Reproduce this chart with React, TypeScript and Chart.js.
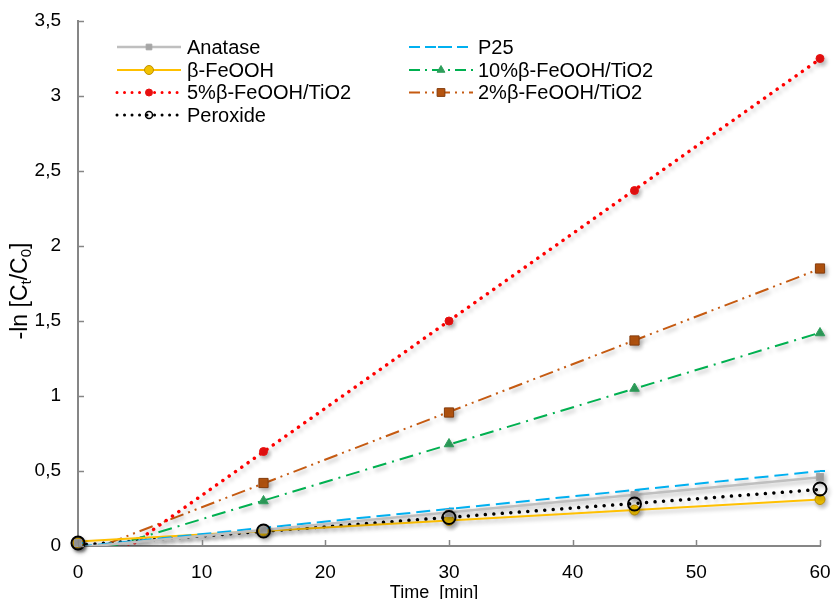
import React, { useEffect, useRef } from 'react';
import { Chart, registerables } from 'chart.js';

Chart.register(...registerables);

// ---- data ----
const times = [0, 15, 30, 45, 60];
const anatase = [0.02, 0.11, 0.22, 0.34, 0.46];
const p25 = [0.02, 0.12, 0.25, 0.37, 0.5];
const feooh = [0.02, 0.1, 0.17, 0.24, 0.31];
const tio2_10 = [0.02, 0.3, 0.68, 1.05, 1.42];
const tio2_5 = [0.02, 0.63, 1.5, 2.37, 3.25];
const tio2_2 = [0.02, 0.42, 0.89, 1.37, 1.85];
const peroxide = [0.02, 0.1, 0.19, 0.28, 0.38];
const seriesNames = ['Anatase', 'P25', 'β-FeOOH', '10%β-FeOOH/TiO2', '5%β-FeOOH/TiO2', '2%β-FeOOH/TiO2', 'Peroxide'];
const seriesValues = [anatase, p25, feooh, tio2_10, tio2_5, tio2_2, peroxide];
const xTickStep = 10;
const yTickStep = 0.5;
const xMax = 60;
const yMax = 3.5;
const xTitle = 'Time  [min]';

const FONT = '"Liberation Sans", Arial, sans-serif';

type Style = {
  color: string; dash: number[]; width: number; cap: CanvasLineCap;
  point: string; radius: number; fill: string; stroke: string; bw: number;
  legendRadius: number; legendDash: number[];
};

const styles: Style[] = [
  { color: '#BFBFBF', dash: [], width: 2.5, cap: 'butt', point: 'rect', radius: 5, fill: '#A6A6A6', stroke: '#A6A6A6', bw: 1, legendRadius: 4, legendDash: [] },
  { color: '#00B0F0', dash: [14, 6], width: 2, cap: 'butt', point: 'dash', radius: 5, fill: '#00B0F0', stroke: '#00B0F0', bw: 2, legendRadius: 3, legendDash: [11, 5] },
  { color: '#FFC000', dash: [], width: 2, cap: 'butt', point: 'circle', radius: 5, fill: '#F2C200', stroke: '#BF9000', bw: 1, legendRadius: 4.5, legendDash: [] },
  { color: '#00B050', dash: [14, 6, 2, 6], width: 2, cap: 'butt', point: 'triangle', radius: 5.5, fill: '#2E9E5B', stroke: '#2E9E5B', bw: 1, legendRadius: 4.5, legendDash: [11, 5, 2, 5] },
  { color: '#FF0000', dash: [0.01, 7.7], width: 3.5, cap: 'round', point: 'circle', radius: 4, fill: '#E81010', stroke: '#E81010', bw: 1, legendRadius: 3.5, legendDash: [0.01, 7.5] },
  { color: '#C55A11', dash: [14, 5, 2, 5, 2, 5], width: 2, cap: 'butt', point: 'rect', radius: 6.5, fill: '#B5540F', stroke: '#843C0C', bw: 1, legendRadius: 5.5, legendDash: [11, 5, 2, 5, 2, 5] },
  { color: '#000000', dash: [0.01, 8.5], width: 3.5, cap: 'round', point: 'circle', radius: 6.5, fill: 'rgba(0,0,0,0)', stroke: '#000000', bw: 2, legendRadius: 3.5, legendDash: [0.01, 7.5] },
];

// linear trendline fitted on the measured points after t = 0
function fit(xs: number[], ys: number[]) {
  const pts = xs.map((x, i) => [x, ys[i]]).filter((p) => p[0] > 0);
  const n = pts.length;
  const mx = pts.reduce((s, p) => s + p[0], 0) / n;
  const my = pts.reduce((s, p) => s + p[1], 0) / n;
  let sxy = 0, sxx = 0;
  pts.forEach((p) => { sxy += (p[0] - mx) * (p[1] - my); sxx += (p[0] - mx) ** 2; });
  const m = sxy / sxx;
  return { m, b: my - m * mx };
}

function drawMarker(ctx: CanvasRenderingContext2D, style: string, x: number, y: number, r: number, fill: string, stroke: string, bw: number) {
  ctx.save();
  ctx.setLineDash([]);
  ctx.beginPath();
  if (style === 'circle') ctx.arc(x, y, r, 0, Math.PI * 2);
  else if (style === 'rect') { const s = r * Math.SQRT1_2; ctx.rect(x - s, y - s, 2 * s, 2 * s); }
  else if (style === 'triangle') { ctx.moveTo(x, y - r); ctx.lineTo(x + r * 0.87, y + r * 0.5); ctx.lineTo(x - r * 0.87, y + r * 0.5); ctx.closePath(); }
  else if (style === 'dash') { ctx.moveTo(x - r, y); ctx.lineTo(x + r, y); }
  if (style !== 'dash') { ctx.fillStyle = fill; ctx.fill(); }
  if (bw) { ctx.lineWidth = bw; ctx.strokeStyle = stroke; ctx.stroke(); }
  ctx.restore();
}

const shadowPlugin = {
  id: 'shadow',
  beforeDatasetDraw(chart: any) {
    const ctx = chart.ctx;
    ctx.save();
    ctx.shadowColor = 'rgba(0,0,0,0.28)';
    ctx.shadowBlur = 4;
    ctx.shadowOffsetX = 2;
    ctx.shadowOffsetY = 3;
  },
  afterDatasetDraw(chart: any) {
    chart.ctx.restore();
  },
};

const decorPlugin = {
  id: 'decor',
  afterDraw(chart: any) {
    const ctx: CanvasRenderingContext2D = chart.ctx;
    const xs = chart.scales.x;
    const ys = chart.scales.y;
    const area = chart.chartArea;
    ctx.save();
    // inner tick marks
    ctx.strokeStyle = '#868686';
    ctx.lineWidth = 1.5;
    xs.ticks.forEach((t: any) => {
      const px = Math.round(xs.getPixelForValue(t.value)) + 0.5;
      ctx.beginPath(); ctx.moveTo(px, area.bottom); ctx.lineTo(px, area.bottom - 6); ctx.stroke();
    });
    ys.ticks.forEach((t: any) => {
      const py = Math.round(ys.getPixelForValue(t.value)) + 0.5;
      ctx.beginPath(); ctx.moveTo(area.left, py); ctx.lineTo(area.left + 6, py); ctx.stroke();
    });

    // legend
    const cols = [{ x1: 117, x2: 181, tx: 187 }, { x1: 409, x2: 473, tx: 478 }];
    const rowY = [47, 70, 92.5, 115];
    seriesNames.forEach((name, i) => {
      const col = cols[i % 2];
      const y = rowY[Math.floor(i / 2)];
      const st = styles[i];
      ctx.save();
      ctx.setLineDash(st.legendDash);
      ctx.lineCap = st.cap;
      ctx.lineWidth = st.width === 3.5 ? 3 : st.width;
      ctx.strokeStyle = st.color;
      ctx.beginPath(); ctx.moveTo(col.x1, y); ctx.lineTo(col.x2, y); ctx.stroke();
      ctx.restore();
      drawMarker(ctx, st.point, (col.x1 + col.x2) / 2, y, st.legendRadius, st.fill, st.stroke, st.point === 'circle' && i === 6 ? 1.5 : st.bw);
      ctx.fillStyle = '#000';
      ctx.font = `20px ${FONT}`;
      ctx.textAlign = 'left';
      ctx.textBaseline = 'middle';
      ctx.fillText(name, col.tx, y + 1);
    });

    // x title
    ctx.fillStyle = '#000';
    ctx.font = `18px ${FONT}`;
    ctx.textAlign = 'center';
    ctx.textBaseline = 'alphabetic';
    ctx.fillText(xTitle, 434, 598);

    // y title with subscripts
    const parts: [string, boolean][] = [['-ln [C', false], ['t', true], ['/C', false], ['0', true], [']', false]];
    const big = `23px ${FONT}`;
    const small = `15px ${FONT}`;
    let total = 0;
    parts.forEach(([s, sub]) => { ctx.font = sub ? small : big; total += ctx.measureText(s).width; });
    ctx.translate(27, 291);
    ctx.rotate(-Math.PI / 2);
    ctx.textAlign = 'left';
    let cx = -total / 2;
    parts.forEach(([s, sub]) => {
      ctx.font = sub ? small : big;
      ctx.fillText(s, cx, sub ? 4 : 0);
      cx += ctx.measureText(s).width;
    });
    ctx.restore();
  },
};

export default function App() {
  const ref = useRef<HTMLCanvasElement | null>(null);
  useEffect(() => {
    document.body.style.margin = '0';
    const canvas = ref.current;
    if (!canvas) return;

    const markerSets = seriesNames.map((name, i) => {
      const st = styles[i];
      return {
        label: name,
        data: times.map((t, k) => ({ x: t, y: seriesValues[i][k] })),
        showLine: false,
        pointStyle: st.point,
        pointRadius: st.radius,
        pointBackgroundColor: st.fill,
        pointBorderColor: st.stroke,
        pointBorderWidth: st.bw,
        clip: false as any,
        order: i === 6 ? 0 : 1,
      };
    });
    const trendSets = seriesNames.map((name, i) => {
      const st = styles[i];
      const { m, b } = fit(times, seriesValues[i]);
      const x0 = times[0];
      const x1 = times[times.length - 1];
      return {
        label: name + ' trend',
        data: [{ x: x0, y: m * x0 + b }, { x: x1, y: m * x1 + b }],
        showLine: true,
        borderColor: st.color,
        borderWidth: st.width,
        borderDash: st.dash,
        borderCapStyle: st.cap,
        pointRadius: 0,
        fill: false,
        clip: 0 as any,
        order: 10 + i,
      };
    });

    const chart = new Chart(canvas, {
      type: 'scatter',
      data: { datasets: [...markerSets, ...trendSets] as any },
      options: {
        responsive: false,
        animation: false,
        devicePixelRatio: 1,
        layout: { padding: { top: 21, right: 15, left: 0, bottom: 0 } },
        plugins: { legend: { display: false }, tooltip: { enabled: false } },
        scales: {
          x: {
            type: 'linear', min: 0, max: xMax,
            grid: { display: false },
            border: { display: true, color: '#868686', width: 2 },
            ticks: { stepSize: xTickStep, color: '#000', font: { family: FONT, size: 19 }, padding: 7 },
            afterFit: (s: any) => { s.height = 53; s.paddingLeft = 0; s.paddingRight = 0; },
          },
          y: {
            type: 'linear', min: 0, max: yMax,
            grid: { display: false },
            border: { display: true, color: '#868686', width: 2 },
            ticks: {
              stepSize: yTickStep, color: '#000', font: { family: FONT, size: 19 }, padding: 9,
              callback: (v: any) => String(v).replace('.', ','),
            },
            afterFit: (s: any) => { s.width = 78; s.paddingTop = 0; s.paddingBottom = 0; },
          },
        },
      } as any,
      plugins: [shadowPlugin, decorPlugin],
    });
    return () => chart.destroy();
  }, []);

  return (
    <div style={{ position: 'absolute', left: 0, top: 0, width: 835, height: 599, background: '#fff' }}>
      <canvas ref={ref} width={835} height={599} />
    </div>
  );
}
